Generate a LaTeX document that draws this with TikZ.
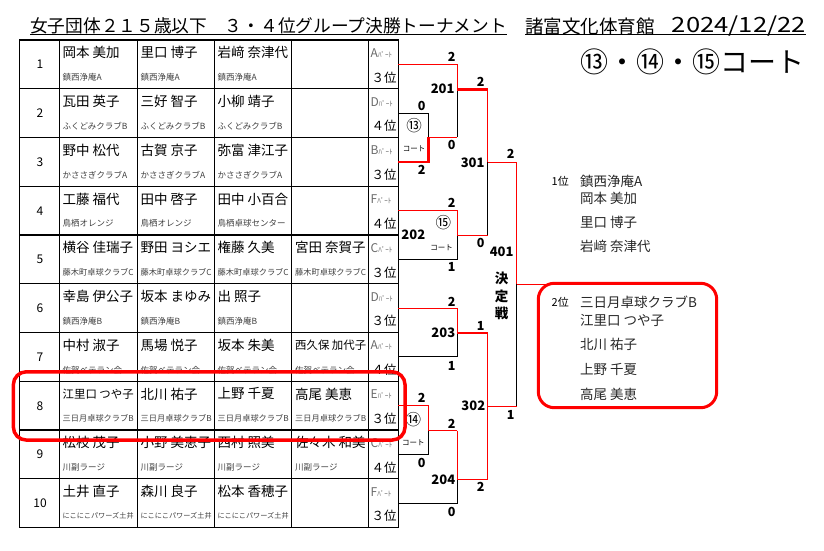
\documentclass[tikz,border=0pt]{standalone}
\usepackage{fontspec}
\setmainfont{Noto Sans CJK JP}
\usepackage{graphicx}
\usepackage{tikz}
\usetikzlibrary{positioning}
\definecolor{hlred}{RGB}{255,0,0}
\definecolor{blkgray}{RGB}{105,105,105}
\newsavebox\fitsave
\newcommand\fitbox[2]{\sbox\fitsave{#2}\ifdim\wd\fitsave>#1\resizebox{#1}{!}{\usebox\fitsave}\else\usebox\fitsave\fi}
\newcommand\fsz[1]{\fontsize{#1}{#1}\selectfont}

\begin{document}
\begin{tikzpicture}[x=1pt, y=-1pt,
    pname/.style={anchor=west, inner sep=0pt, font=\fsz{13.5}},
    pteam/.style={anchor=west, inner sep=0pt, font=\fsz{8.5}, text=black!75},
    rnum/.style={inner sep=0pt, font=\fsz{12}},
    blkname/.style={anchor=west, inner sep=0pt, font=\fsz{12}, text=blkgray},
    plc/.style={inner sep=0pt, font=\fsz{12.5}},
    score/.style={inner sep=0pt, font=\fsz{12.5}\bfseries},
    mnum/.style={inner sep=0pt, font=\fsz{13}\bfseries},
    court/.style={inner sep=0pt, font=\fsz{15.5}},
    courtlbl/.style={inner sep=0pt, font=\fsz{7.5}},
    tgrid/.style={line width=1.1pt},
    rline/.style={hlred, line width=1pt},
    rthick/.style={hlred, line width=2.4pt},
    bline/.style={black, line width=1pt},
    listtxt/.style={anchor=west, inner sep=0pt, font=\fsz{13.5}, text=black!85},
]
    \useasboundingbox (0,0) rectangle (824,550);

    % Titles
    \node[anchor=west, inner sep=0pt, font=\fsz{17.7}] (ttl) at (30,26) {女子団体２１５歳以下　３・４位グループ決勝トーナメント};
    \draw[line width=1pt] (ttl.south west) -- (ttl.south east);
    \node[anchor=west, inner sep=0pt, font=\fsz{18.5}] (ven) at (525,26) {諸富文化体育館};
    \node[anchor=east, inner sep=0pt, font=\fsz{21}] (dat) at (806,26) {\scalebox{1.22}[1]{2024/12/22}};
    \draw[line width=1pt] (ven.south west) -- (ven.south west -| dat.east);
    \node[inner sep=0pt, font=\fsz{28}] (courts) at (692,62) {⑬・⑭・⑮コート};

    % Table grid
    \draw[tgrid] (19.5,40) rectangle (398.3,527.5);
    \foreach \x in {59.3,137.3,214.3,291.7,368.3}
        \draw[tgrid] (\x,40) -- (\x,527.5);
    \foreach \k in {1,...,9}
        \draw[tgrid] (19.5,{40+48.75*\k}) -- (398.3,{40+48.75*\k});

    % Table rows
    \foreach \i/\na/\nb/\nc/\nd/\ta/\tb/\tc/\td/\blk/\pl in {
        1/岡本 美加/里口 博子/岩﨑 奈津代//鎮西浄庵A/鎮西浄庵A/鎮西浄庵A//A/３位,
        2/瓦田 英子/三好 智子/小柳 靖子//ふくどみクラブB/ふくどみクラブB/ふくどみクラブB//D/４位,
        3/野中 松代/古賀 京子/弥富 津江子//かささぎクラブA/かささぎクラブA/かささぎクラブA//B/３位,
        4/工藤 福代/田中 啓子/田中 小百合//鳥栖オレンジ/鳥栖オレンジ/鳥栖卓球センター//F/４位,
        5/横谷 佳瑞子/野田 ヨシエ/権藤 久美/宮田 奈賀子/藤木町卓球クラブC/藤木町卓球クラブC/藤木町卓球クラブC/藤木町卓球クラブC/C/３位,
        6/幸島 伊公子/坂本 まゆみ/出 照子//鎮西浄庵B/鎮西浄庵B/鎮西浄庵B//D/３位,
        7/中村 淑子/馬場 悦子/坂本 朱美/西久保 加代子/佐賀ベテラン会/佐賀ベテラン会/佐賀ベテラン会/佐賀ベテラン会/A/４位,
        8/江里口 つや子/北川 祐子/上野 千夏/高尾 美恵/三日月卓球クラブB/三日月卓球クラブB/三日月卓球クラブB/三日月卓球クラブB/E/３位,
        9/松枝 茂子/小野 美恵子/西村 照美/佐々木 和美/川副ラージ/川副ラージ/川副ラージ/川副ラージ/C/４位,
        10/土井 直子/森川 良子/松本 香穂子//にこにこパワーズ土井/にこにこパワーズ土井/にこにこパワーズ土井//F/３位} {
        \pgfmathsetmacro\y{40+48.75*(\i-1)}
        \node[rnum] (num\i) at (40,{\y+24.5}) {\i};
        \node[pname] (n\i-1) at (62.5,{\y+12.7}) {\fitbox{71pt}{\na}};
        \node[pname] (n\i-2) at (140.5,{\y+12.7}) {\fitbox{71pt}{\nb}};
        \node[pname] (n\i-3) at (217.5,{\y+12.7}) {\fitbox{71pt}{\nc}};
        \node[pname] (n\i-4) at (295,{\y+12.7}) {\fitbox{71pt}{\nd}};
        \node[pteam] (t\i-1) at (62.5,{\y+37.3}) {\fitbox{71pt}{\ta}};
        \node[pteam] (t\i-2) at (140.5,{\y+37.3}) {\fitbox{71pt}{\tb}};
        \node[pteam] (t\i-3) at (217.5,{\y+37.3}) {\fitbox{71pt}{\tc}};
        \node[pteam] (t\i-4) at (295,{\y+37.3}) {\fitbox{71pt}{\td}};
        \node[blkname] (b\i) at (370.5,{\y+13}) {\blk{\fsz{7}ﾊﾟｰﾄ}};
        \node[plc] (p\i) at (384,{\y+37.3}) {\pl};
        \coordinate (r\i) at (398.3,{\y+24.4});
    }

    % Bracket junctions
    \coordinate (j13) at (428.3,137.3);
    \coordinate (j201) at (457.3,89.3);
    \coordinate (j202) at (457.3,235);
    \coordinate (j301) at (487.7,162.3);
    \coordinate (j203) at (457.3,332.7);
    \coordinate (j14) at (428.3,430.7);
    \coordinate (j204) at (457.3,479.3);
    \coordinate (j302) at (487.7,406);
    \coordinate (j401) at (516.7,284);
    \coordinate (e401) at (546.7,284);

    % black (losing) sides
    \draw[bline] (r2) -| (j13);
    \draw[bline] (j13 -| j201) -- (j201);
    \draw[bline] (r5) -| (j202);
    \draw[bline] (j202 -| j301) -- (j301);
    \draw[bline] (r7) -| (j203);
    \draw[bline] (r9) -| (j14);
    \draw[bline] (r10) -| (j204);
    \draw[bline] (j302 -| j401) -- (j401);

    % red (winning) sides
    \draw[rthick] (r3) -| (j13);
    \draw[rline] (j13) -- (j13 -| j201);
    \draw[rline] (r1) -| (j201);
    \draw[rthick] (j201) -- (j201 -| j301);
    \draw[rline] (r4) -| (j202);
    \draw[rline] (j202) -- (j202 -| j301);
    \draw[rline] (j201 -| j301) -- (j301);
    \draw[rline] (j301) -- (j301 -| j401);
    \draw[rline] (r6) -| (j203);
    \draw[rthick] (j203) -- (j203 -| j302);
    \draw[rline] (r8) -| (j14);
    \draw[rline] (j14) -- (j14 -| j204);
    \draw[rline] (j14 -| j204) -- (j204);
    \draw[rline] (j204) -- (j204 -| j302);
    \draw[rline] (j203 -| j302) -- (j204 -| j302);
    \draw[rline] (j302) -- (j302 -| j401);
    \draw[rline] (j301 -| j401) -- (j401);
    \draw[rline] (j401) -- (e401);

    % Match numbers and courts
    \node[mnum] (m201) at (442.7,88.3) {201};
    \node[mnum] (m202) at (413.3,235) {202};
    \node[mnum] (m203) at (443.3,332.7) {203};
    \node[mnum] (m204) at (443.3,479.3) {204};
    \node[mnum] (m301) at (472.7,162.3) {301};
    \node[mnum] (m302) at (473.3,406) {302};
    \node[mnum] (m401) at (501.7,251.7) {401};
    \node[inner sep=0pt, font=\fontsize{13.5}{17.5}\selectfont\bfseries, align=center] (final) at (501.7,296) {決\\定\\戦};
    \node[court] (c13) at (414,125.7) {⑬};
    \node[courtlbl] (c13l) at (414,149) {コート};
    \node[court] (c15) at (443.3,222.3) {⑮};
    \node[courtlbl] (c15l) at (441.7,247.3) {コート};
    \node[court] (c14) at (413.3,419.3) {⑭};
    \node[courtlbl] (c14l) at (413.3,442.3) {コート};

    % Scores
    \node[score] (s13a) at (421.7,106) {0};
    \node[score] (s13b) at (421.7,170) {2};
    \node[score] (s201a) at (451.7,56.7) {2};
    \node[score] (s201b) at (451.7,145) {0};
    \node[score] (s202a) at (451.7,203.3) {2};
    \node[score] (s202b) at (451.7,267.3) {1};
    \node[score] (s301a) at (480.7,81.7) {2};
    \node[score] (s301b) at (480.7,242.7) {0};
    \node[score] (s203a) at (451.7,301.7) {2};
    \node[score] (s203b) at (451.7,365.7) {1};
    \node[score] (s14a) at (421.7,398.3) {2};
    \node[score] (s14b) at (421.7,462.7) {0};
    \node[score] (s204a) at (451.7,424) {2};
    \node[score] (s204b) at (451.7,511.7) {0};
    \node[score] (s302a) at (480.7,326) {1};
    \node[score] (s302b) at (480.7,487.3) {2};
    \node[score] (s401a) at (510.7,154.3) {2};
    \node[score] (s401b) at (510.7,415) {1};

    % Results
    \node[anchor=west, inner sep=0pt, font=\fsz{11}] (pos1) at (551.5,181.7) {1位};
    \node[listtxt] (w1) at (580,181.7) {鎮西浄庵A};
    \node[listtxt] (w1a) at (580,198.3) {岡本 美加};
    \node[listtxt] (w1b) at (580,222) {里口 博子};
    \node[listtxt] (w1c) at (580,246.7) {岩﨑 奈津代};
    \node[draw=hlred, line width=3pt, rounded corners=16pt, minimum width=178.4pt, minimum height=124.4pt, inner sep=0pt] (sec) at (627.5,345.5) {};
    \node[anchor=west, inner sep=0pt, font=\fsz{11}] (pos2) at (551.5,302.3) {2位};
    \node[listtxt] (w2) at (580,302.3) {三日月卓球クラブB};
    \node[listtxt] (w2a) at (580,320.7) {江里口 つや子};
    \node[listtxt] (w2b) at (580,344) {北川 祐子};
    \node[listtxt] (w2c) at (580,369) {上野 千夏};
    \node[listtxt] (w2d) at (580,394) {高尾 美恵};

    % Highlight row 8
    \node[draw=hlred, line width=3.5pt, rounded corners=13pt, minimum width=391.7pt, minimum height=68.3pt, inner sep=0pt] (hl) at (209.2,405.9) {};
\end{tikzpicture}
\end{document}
